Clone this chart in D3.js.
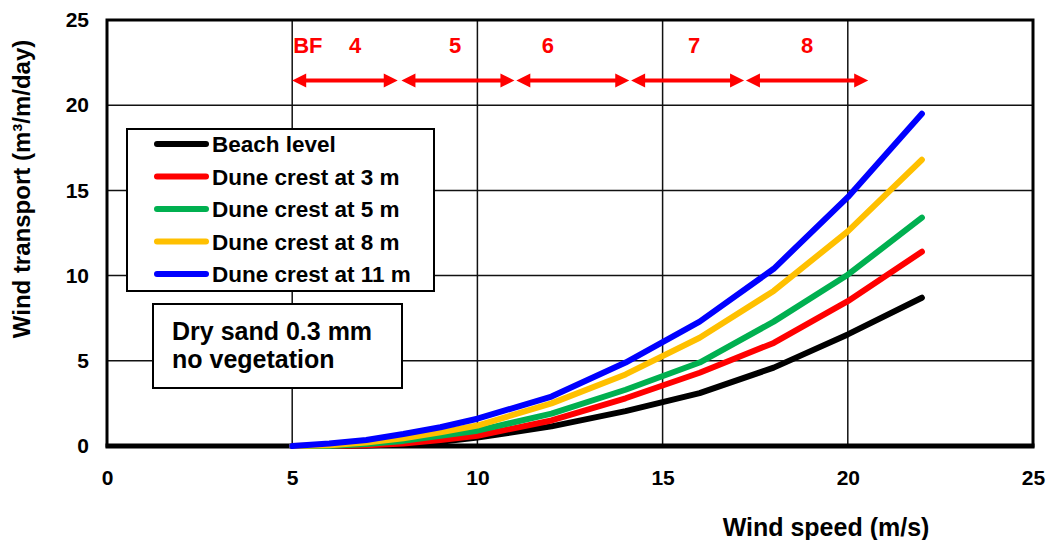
<!DOCTYPE html>
<html>
<head>
<meta charset="utf-8">
<script src="https://cdn.jsdelivr.net/npm/d3@7"></script>
<style>
  body { margin: 0; background: #fff; }
  svg { display: block; font-family: 'Liberation Sans', Arial, sans-serif; font-weight: bold; }
</style>
</head>
<body>
<div id="chart"></div>
<script>
// wind speed (m/s) on x, transport (m3/m/day) on y
const windSpeed = [5, 6, 7, 8, 9, 10, 12, 14, 16, 18, 20, 22];
const beachLevel = [0, 0, 0.03, 0.1, 0.25, 0.5, 1.15, 2.05, 3.1, 4.6, 6.55, 8.7];
const dune3m = [0, 0, 0.05, 0.15, 0.35, 0.6, 1.5, 2.8, 4.3, 6.05, 8.5, 11.4];
const dune5m = [0, 0, 0.12, 0.3, 0.6, 0.9, 1.9, 3.3, 4.9, 7.3, 10.05, 13.4];
const dune8m = [0, 0.05, 0.2, 0.45, 0.8, 1.2, 2.5, 4.2, 6.35, 9.1, 12.6, 16.8];
const dune11m = [0, 0.15, 0.35, 0.7, 1.1, 1.6, 2.9, 4.9, 7.3, 10.4, 14.6, 19.5];

const seriesNames = ['Beach level', 'Dune crest at 3 m', 'Dune crest at 5 m', 'Dune crest at 8 m', 'Dune crest at 11 m'];
const seriesValues = [beachLevel, dune3m, dune5m, dune8m, dune11m];
const seriesColors = ['#000000', '#ff0000', '#00b050', '#ffc000', '#0000ff'];

const xTicks = [0, 5, 10, 15, 20, 25];
const yTicks = [0, 5, 10, 15, 20, 25];

// Beaufort classes drawn as double arrows over the wind speed range
const bfClasses = ['4', '5', '6', '7', '8'];
const bfFrom = [5, 7.95, 11.05, 14.15, 17.25];
const bfTo = [7.85, 11.0, 14.1, 17.2, 20.55];
const bfLabelX = [6.7, 9.4, 11.9, 15.85, 18.9];
const bfArrowY = 21.45;
const bfLabelY = 23.05;

const noteLines = ['Dry sand 0.3 mm', 'no vegetation'];

const width = 1051;
const height = 540;
const plot = { left: 107, right: 1033, top: 20, bottom: 446 };

const svg = d3.select('#chart')
  .append('svg')
  .attr('width', width)
  .attr('height', height);

const x = d3.scaleLinear().domain([0, 25]).range([plot.left, plot.right]);
const y = d3.scaleLinear().domain([0, 25]).range([plot.bottom, plot.top]);

// gridlines
svg.append('g')
  .selectAll('line.vgrid')
  .data(xTicks.slice(1, -1))
  .join('line')
  .attr('x1', d => x(d)).attr('x2', d => x(d))
  .attr('y1', plot.top).attr('y2', plot.bottom)
  .attr('stroke', '#111')
  .attr('stroke-width', 1.5);

svg.append('g')
  .selectAll('line.hgrid')
  .data(yTicks.slice(1, -1))
  .join('line')
  .attr('x1', plot.left).attr('x2', plot.right)
  .attr('y1', d => y(d)).attr('y2', d => y(d))
  .attr('stroke', '#111')
  .attr('stroke-width', 1.5);

// frame
svg.append('rect')
  .attr('x', plot.left)
  .attr('y', plot.top)
  .attr('width', plot.right - plot.left)
  .attr('height', plot.bottom - plot.top)
  .attr('fill', 'none')
  .attr('stroke', '#000')
  .attr('stroke-width', 3);

svg.append('line')
  .attr('x1', plot.left - 1.5).attr('x2', plot.right + 1.5)
  .attr('y1', plot.bottom).attr('y2', plot.bottom)
  .attr('stroke', '#000')
  .attr('stroke-width', 5);

// axes (labels only, lines come from the frame)
const xAxis = svg.append('g')
  .attr('transform', `translate(0, ${plot.bottom})`)
  .call(d3.axisBottom(x).tickValues(xTicks).tickSize(0).tickPadding(24));
xAxis.select('.domain').remove();
xAxis.selectAll('text')
  .attr('fill', '#000')
  .style('font-size', '21px')
  .style('font-family', "'Liberation Sans', Arial, sans-serif")
  .style('font-weight', 'bold');

const yAxis = svg.append('g')
  .attr('transform', `translate(${plot.left}, 0)`)
  .call(d3.axisLeft(y).tickValues(yTicks).tickSize(0).tickPadding(18));
yAxis.select('.domain').remove();
yAxis.selectAll('text')
  .attr('fill', '#000')
  .style('font-size', '21px')
  .style('font-family', "'Liberation Sans', Arial, sans-serif")
  .style('font-weight', 'bold');

// axis titles
svg.append('text')
  .attr('x', 826)
  .attr('y', 536)
  .attr('text-anchor', 'middle')
  .style('font-size', '25px')
  .text('Wind speed (m/s)');

svg.append('text')
  .attr('transform', 'translate(30, 189) rotate(-90)')
  .attr('text-anchor', 'middle')
  .style('font-size', '24px')
  .text('Wind transport (m³/m/day)');

// series
const line = d3.line()
  .x((d, i) => x(windSpeed[i]))
  .y(d => y(d));

svg.append('g')
  .selectAll('path')
  .data(seriesValues)
  .join('path')
  .attr('d', d => line(d))
  .attr('fill', 'none')
  .attr('stroke', (d, i) => seriesColors[i])
  .attr('stroke-width', 6)
  .attr('stroke-linecap', 'round')
  .attr('stroke-linejoin', 'round');

// Beaufort arrows
const red = '#ff0000';
const bf = svg.append('g');
const headLen = 14;
const headHalf = 7;
bfClasses.forEach((c, i) => {
  const x0 = x(bfFrom[i]);
  const x1 = x(bfTo[i]);
  const yy = y(bfArrowY);
  bf.append('line')
    .attr('x1', x0 + headLen - 2).attr('x2', x1 - headLen + 2)
    .attr('y1', yy).attr('y2', yy)
    .attr('stroke', red)
    .attr('stroke-width', 4);
  bf.append('path')
    .attr('d', `M${x0},${yy}L${x0 + headLen},${yy - headHalf}L${x0 + headLen},${yy + headHalf}Z`)
    .attr('fill', red);
  bf.append('path')
    .attr('d', `M${x1},${yy}L${x1 - headLen},${yy - headHalf}L${x1 - headLen},${yy + headHalf}Z`)
    .attr('fill', red);
  bf.append('text')
    .attr('x', x(bfLabelX[i]))
    .attr('y', y(bfLabelY))
    .attr('text-anchor', 'middle')
    .attr('fill', red)
    .style('font-size', '22px')
    .text(c);
});
bf.append('text')
  .attr('x', x(5) + 1)
  .attr('y', y(bfLabelY))
  .attr('fill', red)
  .style('font-size', '22px')
  .text('BF');

// legend
const legend = svg.append('g');
legend.append('rect')
  .attr('x', 127).attr('y', 129)
  .attr('width', 307).attr('height', 162)
  .attr('fill', '#fff')
  .attr('stroke', '#000')
  .attr('stroke-width', 2);

const rows = legend.selectAll('g.row')
  .data(seriesNames)
  .join('g')
  .attr('transform', (d, i) => `translate(0, ${144 + i * 32.5})`);

rows.append('line')
  .attr('x1', 157).attr('x2', 206)
  .attr('y1', 0).attr('y2', 0)
  .attr('stroke', (d, i) => seriesColors[i])
  .attr('stroke-width', 6)
  .attr('stroke-linecap', 'round');

rows.append('text')
  .attr('x', 212)
  .attr('y', 0)
  .attr('dy', '0.36em')
  .style('font-size', '22.5px')
  .text(d => d);

// note box
const note = svg.append('g');
note.append('rect')
  .attr('x', 153).attr('y', 304)
  .attr('width', 249).attr('height', 84)
  .attr('fill', '#fff')
  .attr('stroke', '#000')
  .attr('stroke-width', 2);

note.selectAll('text')
  .data(noteLines)
  .join('text')
  .attr('x', 172)
  .attr('y', (d, i) => 340 + i * 28)
  .style('font-size', '25px')
  .text(d => d);
</script>
</body>
</html>
